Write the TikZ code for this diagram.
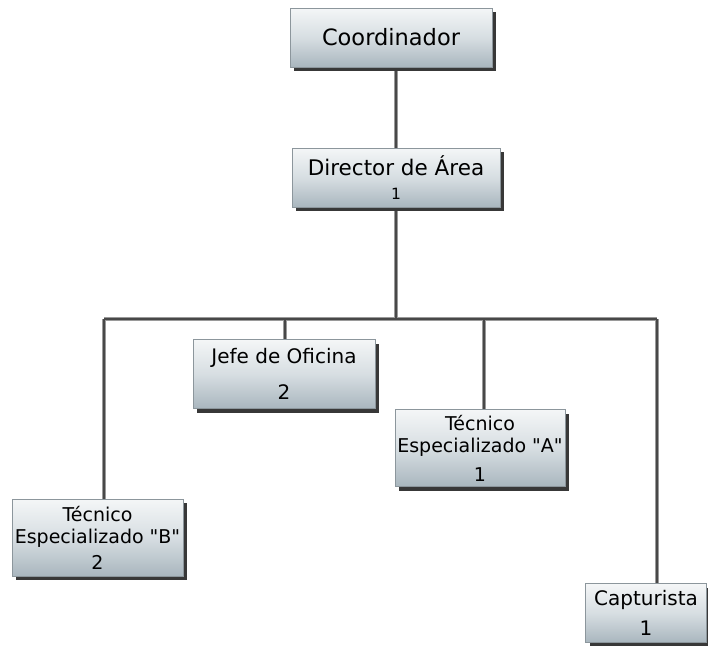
\documentclass[tikz,border=0pt]{standalone}
\usepackage{fontspec}
\setmainfont{DejaVu Sans}
\usetikzlibrary{shadows,backgrounds}
\definecolor{boxtop}{HTML}{F4F6F7}
\definecolor{boxmid}{HTML}{D7DEE2}
\definecolor{boxbot}{HTML}{A9B6BE}
\definecolor{boxline}{HTML}{8C969C}
\definecolor{wire}{HTML}{484848}
\definecolor{wireedge}{HTML}{9A9A9A}
\newcommand{\qt}{\textquotedbl}
\begin{document}
\begin{tikzpicture}[x=1pt,y=-1pt,
  orgbox/.style={draw=boxline, line width=0.6pt, top color=boxtop, bottom color=boxbot,
    middle color=boxmid, align=center, inner sep=0pt, text=black,
    drop shadow={shadow xshift=4pt, shadow yshift=-4pt, fill=black!78, opacity=1}},
  wirecase/.style={draw=wireedge, line width=4pt},
  wirecore/.style={draw=wire, line width=2.6pt},
]
\useasboundingbox (0,0) rectangle (708,645);

% boxes
\node[orgbox, font=\fontsize{22.5}{26}\selectfont, minimum width=202pt, minimum height=59pt]
  (coord) at (391,37.5) {Coordinador};
\node[orgbox, font=\fontsize{21.5}{24}\selectfont, minimum width=208pt, minimum height=59pt]
  (dir) at (396,177.5) {Director de Área\\\fontsize{15.5}{31}\selectfont 1};
\node[orgbox, font=\fontsize{20}{36}\selectfont, minimum width=182pt, minimum height=69pt]
  (jefe) at (284,374) {Jefe de Oficina\\2};
\node[orgbox, font=\fontsize{19}{22}\selectfont, minimum width=170pt, minimum height=77pt]
  (teca) at (480,448) {Técnico\\Especializado \qt A\qt\\[7pt]1};
\node[orgbox, font=\fontsize{19}{22}\selectfont, minimum width=171pt, minimum height=77pt]
  (tecb) at (97.5,537.5) {Técnico\\Especializado \qt B\qt\\[4pt]2};
\node[orgbox, font=\fontsize{20}{30}\selectfont, minimum width=121pt, minimum height=59pt]
  (capt) at (646,613) {Capturista\\1};

% bus coordinates
\coordinate (busC) at (dir.south |- 0,319);
\coordinate (busL) at (104,319);
\coordinate (busR) at (657,319);
\coordinate (dropJ) at (285,319);
\coordinate (dropA) at (484,319);

% connectors behind the boxes
\begin{scope}[on background layer]
\foreach \s in {wirecase,wirecore}{
  \draw[\s] (coord.south -| dir.north) -- (dir.north);
  \draw[\s] (dir.south) -- (busC);
  \draw[\s] (busL) -- (busR);
  \draw[\s] (busL) -- (busL |- tecb.north);
  \draw[\s] (dropJ) -- (dropJ |- jefe.north);
  \draw[\s] (dropA) -- (dropA |- teca.north);
  \draw[\s] (busR) -- (busR |- capt.north);
}
\end{scope}
\end{tikzpicture}
\end{document}
